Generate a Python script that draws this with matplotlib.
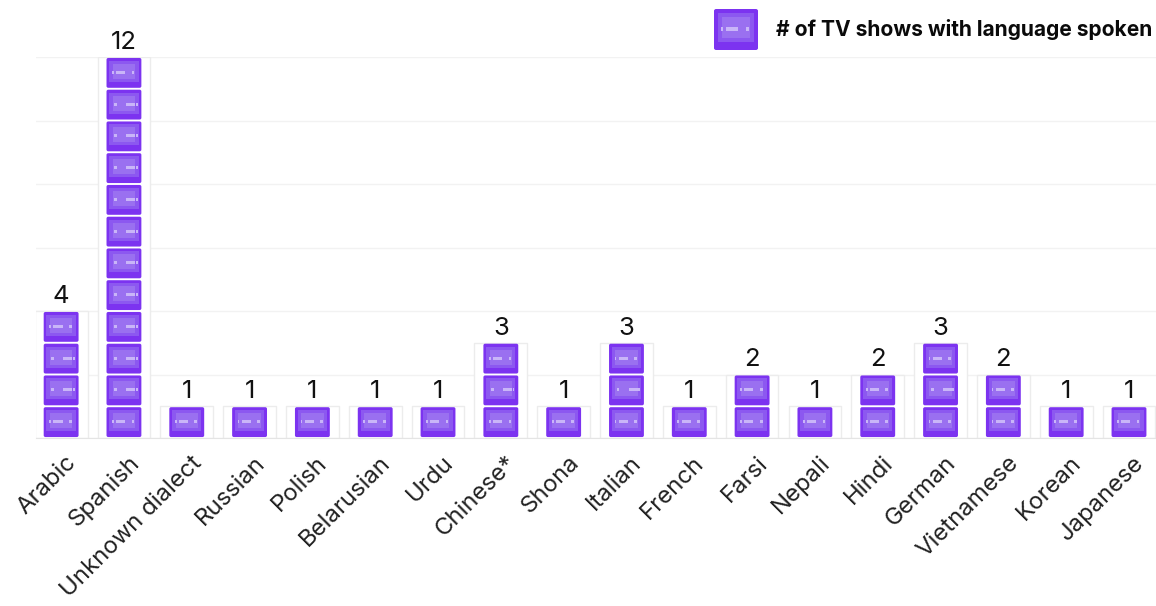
import matplotlib
matplotlib.use('Agg')
import matplotlib.pyplot as plt
from matplotlib.patches import FancyBboxPatch, Rectangle
from matplotlib.transforms import ScaledTranslation

languages = ['Arabic', 'Spanish', 'Unknown dialect', 'Russian', 'Polish', 'Belarusian', 'Urdu', 'Chinese*', 'Shona',
             'Italian', 'French', 'Farsi', 'Nepali', 'Hindi', 'German', 'Vietnamese', 'Korean', 'Japanese']
shows = [4, 12, 1, 1, 1, 1, 1, 3, 1, 3, 1, 2, 1, 2, 3, 2, 1, 1]
y_ticks = [0, 2, 4, 6, 8, 10, 12]
legend_label = '# of TV shows with language spoken'

plt.rcParams['font.family'] = ['Inter', 'DejaVu Sans']

W, H = 1156, 606
fig = plt.figure(figsize=(W / 100, H / 100), dpi=100)
ax = fig.add_axes([36 / W, (H - 438) / H, 1 - 36 / W, (438 - 57) / H])
ax.set_xlim(-0.4, 17.43)
ax.set_ylim(0, 12)
ax.set_yticks(y_ticks)
ax.grid(axis='y', color='#f2f2f2', linewidth=1)
ax.set_axisbelow(True)
for s in ax.spines.values():
    s.set_visible(False)
ax.spines['bottom'].set_visible(True)
ax.spines['bottom'].set_color('#e4e4e4')
ax.tick_params(length=0)
ax.tick_params(axis='y', labelleft=False)


def draw_tv(a, cx, bottom, w, h, aspect, flip=False):
    # tv icon made of a body, a screen and a few bright dashes
    a.add_patch(FancyBboxPatch((cx - w / 2, bottom), w, h, boxstyle='round,pad=0,rounding_size=%f' % (w * 0.05),
                               mutation_aspect=aspect, fc='#7c33f0', ec='none', zorder=3))
    a.add_patch(Rectangle((cx - w * 0.42, bottom + h * 0.20), w * 0.84, h * 0.70, fc='#8c58f0', ec='none', zorder=4))
    a.add_patch(Rectangle((cx - w * 0.32, bottom + h * 0.30), w * 0.64, h * 0.50, fc='#9a70f0', ec='none', zorder=4))
    if flip:
        dashes = [(-0.28, 0.08), (0.06, 0.26), (0.34, 0.05)]
    else:
        dashes = [(-0.34, 0.05), (-0.22, 0.26), (0.22, 0.08)]
    for dx, dw in dashes:
        a.add_patch(Rectangle((cx + w * dx, bottom + h * 0.47), w * dw, h * 0.10, fc='#c9b5f8', ec='none', zorder=5))


x = list(range(len(languages)))
ax.bar(x, shows, width=0.84, color='white', edgecolor='#ececec', linewidth=1, zorder=2)
aspect = (12 / (438 - 57)) / (17.83 / (W - 36))
for i, v in zip(x, shows):
    for level in range(v):
        flip = 0 < level < v - 1
        draw_tv(ax, i, level + 0.03, 0.555, 0.94, aspect, flip)
    ax.text(i, v + 0.1, str(v), ha='center', va='bottom', fontsize=18.5, color='#111111')

ax.set_xticks(x)
ax.set_xticklabels(languages, rotation=45, ha='right', rotation_mode='anchor', fontsize=17.2, color='#222222')
ax.tick_params(axis='x', pad=10)
shift = ScaledTranslation(4 / 100, 0, fig.dpi_scale_trans)
for lab in ax.get_xticklabels():
    lab.set_transform(lab.get_transform() + shift)

# legend, placed by hand above the plot
leg = fig.add_axes([714 / W, (H - 50) / H, 44 / W, 41 / H])
leg.set_xlim(0, 1)
leg.set_ylim(0, 1)
leg.axis('off')
draw_tv(leg, 0.5, 0, 1, 1, 41 / 44)
fig.text(776 / W, (H - 30) / H, legend_label, ha='left', va='center', fontsize=15.08, fontweight='bold', color='#0a0a0a')

fig.savefig('out.png', dpi=100)
